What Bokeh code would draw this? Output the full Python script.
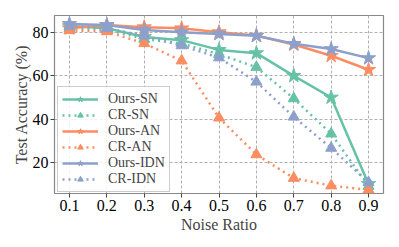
from bokeh.plotting import figure
from bokeh.models import Range1d, FixedTicker, Legend, LegendItem
from bokeh.embed import file_html
from bokeh.resources import INLINE

noise = [0.1, 0.2, 0.3, 0.4, 0.5, 0.6, 0.7, 0.8, 0.9]
ours_sn = [83.0, 82.0, 78.0, 76.5, 72.0, 70.5, 60.0, 50.0, 10.0]
cr_sn = [82.0, 81.5, 77.0, 75.0, 70.0, 64.0, 49.5, 33.2, 9.0]
ours_an = [82.0, 83.5, 82.5, 82.0, 80.2, 78.6, 74.5, 69.3, 62.8]
cr_an = [81.0, 80.5, 75.0, 67.0, 40.6, 23.6, 12.7, 9.2, 7.3]
ours_idn = [84.0, 83.5, 81.2, 80.2, 79.4, 78.5, 74.8, 72.4, 68.2]
cr_idn = [83.0, 82.0, 78.5, 74.0, 68.4, 57.2, 41.0, 26.6, 10.7]
labels = ["Ours-SN", "CR-SN", "Ours-AN", "CR-AN", "Ours-IDN", "CR-IDN"]
xticks = [0.1, 0.2, 0.3, 0.4, 0.5, 0.6, 0.7, 0.8, 0.9]
yticks = [20, 40, 60, 80]

GREEN = "#66c2a5"
ORANGE = "#fc8d62"
BLUE = "#8da0cb"
FONT = "Liberation Serif"

p = figure(frame_width=329, frame_height=178, output_backend="svg", toolbar_location=None,
           x_range=Range1d(0.06, 0.94), y_range=Range1d(5.6, 87.9),
           min_border_left=54, min_border_right=14, min_border_top=15, min_border_bottom=52)

series = [
    (ours_sn, GREEN, True), (cr_sn, GREEN, False),
    (ours_an, ORANGE, True), (cr_an, ORANGE, False),
    (ours_idn, BLUE, True), (cr_idn, BLUE, False),
]
items = []
for (vals, col, solid), lab in zip(series, labels):
    if solid:
        l = p.line(noise, vals, line_color=col, line_width=2.5)
        s = p.scatter(noise, vals, marker="star", size=15, fill_color=col, line_color=col)
    else:
        l = p.line(noise, vals, line_color=col, line_width=2.5, line_dash="2 4")
        s = p.scatter(noise, vals, marker="triangle", size=11, fill_color=col, line_color=col)
    items.append(LegendItem(label=lab, renderers=[l, s]))

legend = Legend(items=items, location=(3, 1), label_text_font=FONT, label_text_font_size="14px",
                glyph_width=36, glyph_height=14, label_height=14, spacing=0, padding=4,
                label_standoff=10, border_line_color="#cccccc", border_line_alpha=1.0,
                background_fill_alpha=0.85, margin=0)
p.add_layout(legend, "center")

p.xaxis.ticker = FixedTicker(ticks=xticks)
p.yaxis.ticker = FixedTicker(ticks=yticks)
p.xaxis.axis_label = "Noise Ratio"
p.yaxis.axis_label = "Test Accuracy (%)"
for ax in (p.xaxis, p.yaxis):
    ax.axis_label_text_font = FONT
    ax.axis_label_text_font_style = "normal"
    ax.axis_label_text_font_size = "16px"
    ax.major_label_text_font = FONT
    ax.major_label_text_font_size = "16px"
    ax.major_label_text_color = "black"
    ax.axis_line_color = None
    ax.major_tick_line_color = "#444444"
    ax.major_tick_out = 4
    ax.major_tick_in = 0
    ax.minor_tick_line_color = None
    ax.major_label_standoff = 2
p.xaxis.axis_label_standoff = 2
p.yaxis.axis_label_standoff = 0

p.grid.grid_line_color = "#b0b0b0"
p.grid.grid_line_dash = "3 2"
p.grid.grid_line_width = 1
p.outline_line_color = "#888888"
p.outline_line_width = 1.2
p.outline_line_alpha = 1.0
p.background_fill_color = "white"

open("out.html", "w").write(file_html(p, INLINE))
